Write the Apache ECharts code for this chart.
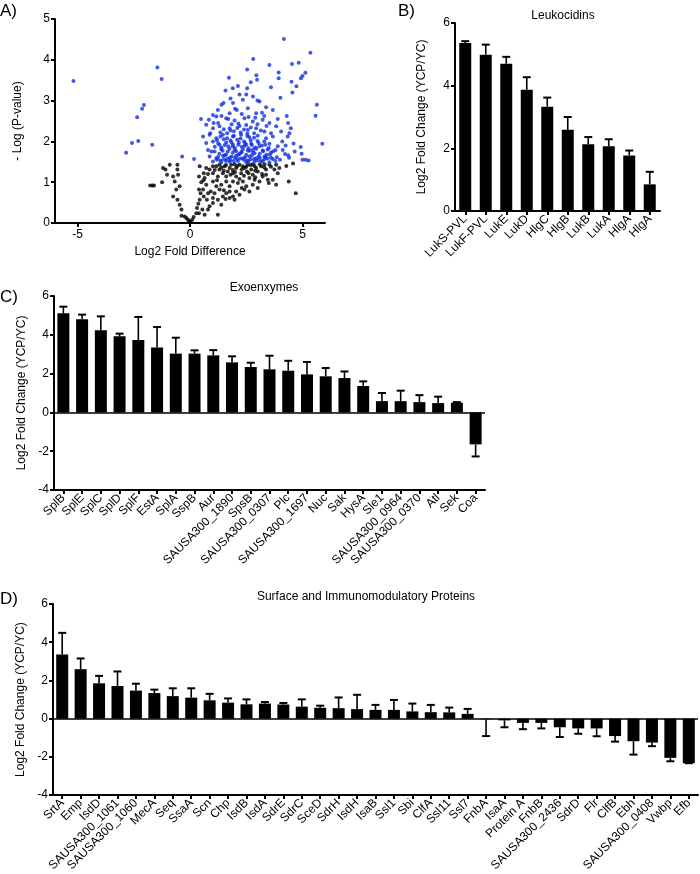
<!DOCTYPE html>
<html><head><meta charset="utf-8">
<script src="https://cdn.jsdelivr.net/npm/echarts@6/dist/echarts.min.js"></script>
<style>html,body{margin:0;padding:0;background:#fff}#c{width:700px;height:874px}</style>
</head><body><div id="c"></div>
<script>
// Panel A: volcano plot points [log2 fold difference, -log p]
const volcanoSig = [
[-5.18,3.48],[-1.45,3.81],[-1.26,3.53],[-2.05,2.89],[-2.13,2.80],[-2.35,2.59],[-2.58,1.96],[-2.30,2.01],[-2.84,1.72],[-1.68,1.92],
[-0.35,1.63],[0.18,1.57],[4.17,4.51],[5.35,4.17],[4.83,3.93],[4.53,3.90],[2.81,4.02],[3.53,3.87],[2.54,3.76],[1.73,3.56],
[3.94,3.69],[3.94,3.55],[5.13,3.68],[5.0,3.60],[4.93,3.55],[4.51,3.46],[4.73,3.35],[4.55,3.20],[3.60,3.33],[2.98,3.51],
[2.95,3.62],[5.64,2.90],[5.58,2.63],[5.88,1.94],[4.02,3.07],[4.30,2.62],[4.36,2.45],[4.48,2.32],[4.42,2.20],[4.34,2.12],
[4.92,1.86],[4.96,1.70],[4.65,1.75],[5.14,1.55],[5.27,1.53],[4.22,1.69],[4.36,1.66],[3.86,1.61],[1.58,3.25],[2.13,3.36],
[2.54,3.30],[2.20,3.15],[2.80,3.10],[1.49,2.94],[1.91,2.94],[2.35,3.02],[3.09,2.98],[3.38,2.84],[1.24,2.77],[1.76,2.69],
[2.08,2.77],[2.57,2.81],[2.94,2.69],[3.68,2.77],[0.49,2.55],[0.84,2.53],[1.02,2.65],[1.17,2.61],[1.61,2.57],[1.98,2.51],
[2.42,2.57],[2.79,2.49],[3.23,2.53],[3.53,2.45],[3.83,2.37],[0.72,2.41],[1.02,2.32],[1.31,2.37],[1.76,2.32],[2.20,2.38],
[2.57,2.28],[2.94,2.32],[3.31,2.24],[4.05,2.24],[0.58,2.12],[0.87,2.16],[1.17,2.08],[1.46,2.16],[1.91,2.12],[2.27,2.16],
[2.64,2.10],[3.01,2.14],[3.38,2.08],[3.68,2.12],[0.72,1.96],[1.02,2.00],[1.31,1.92],[1.61,1.97],[1.91,1.92],[2.17,1.97],
[2.42,1.89],[2.72,1.94],[3.09,1.88],[3.53,1.94],[3.90,1.88],[0.80,1.79],[1.09,1.75],[1.39,1.81],[1.68,1.75],[1.98,1.79],
[2.27,1.73],[2.57,1.78],[2.87,1.71],[3.23,1.78],[3.60,1.73],[4.12,1.79],[0.87,1.63],[1.17,1.59],[1.46,1.65],[1.76,1.60],
[2.05,1.65],[2.35,1.58],[2.64,1.63],[2.94,1.59],[3.31,1.63],[3.68,1.57],[1.02,1.51],[1.39,1.49],[1.76,1.50],[2.13,1.52],
[2.50,1.49],[2.87,1.50],[3.23,1.51],[3.53,1.49],
[1.2,1.55],[1.5,1.56],[1.8,1.54],[2.1,1.57],[2.4,1.55],[2.7,1.56],[3.0,1.54],[3.3,1.56],[3.6,1.60],[3.8,1.52],
[1.3,1.70],[1.6,1.68],[1.9,1.72],[2.2,1.69],[2.5,1.67],[2.8,1.74],[3.1,1.70],[3.4,1.67],[3.7,1.76],
[1.1,1.87],[1.4,1.85],[1.7,1.88],[2.0,1.84],[2.3,1.87],[2.6,1.83],[2.9,1.85],[3.2,1.90],[3.5,1.84],[3.8,1.79],
[1.2,2.03],[1.5,2.05],[1.8,2.02],[2.1,2.04],[2.4,2.00],[2.7,2.03],[3.0,2.01],[3.3,2.00],[4.1,2.00],
[1.35,2.22],[1.65,2.20],[1.95,2.25],[2.25,2.22],[2.55,2.19],[2.85,2.20],[3.15,2.27],[3.6,2.20],
[1.25,2.45],[1.85,2.42],[2.15,2.44],[2.5,2.40],[3.0,2.42],[3.4,2.38],
[1.4,2.90],[2.0,2.80],[2.6,2.60],[3.2,2.70],[0.95,1.75],[0.9,2.20],[1.05,2.45],[4.25,1.90],[4.4,1.60],[4.0,1.55],
[4.6,1.95],[5.0,1.55],[3.9,2.55],[2.7,3.45],[1.9,3.30],
[1.35,1.53],[1.65,1.57],[1.95,1.52],[2.25,1.58],[2.55,1.53],[2.85,1.57],[3.15,1.52],[3.45,1.58],
[1.25,1.62],[1.55,1.66],[1.85,1.63],[2.15,1.67],[2.45,1.62],[2.75,1.66],[3.05,1.63],[3.35,1.61],[3.55,1.68],
[1.45,1.77],[1.75,1.82],[2.05,1.76],[2.35,1.81],[2.65,1.77],[2.95,1.82],[3.25,1.76],[3.45,1.80],
[1.25,1.95],[1.55,1.91],[1.85,1.97],[2.15,1.92],[2.45,1.96],[2.75,1.91],[3.05,1.96],[3.35,1.92],
[1.35,2.12],[1.65,2.08],[1.95,2.14],[2.25,2.07],[2.55,2.13],[2.85,2.09],
[1.5,2.30],[1.8,2.27],[2.1,2.33],[2.4,2.29],[2.7,2.34],
[1.4,2.62],[1.7,2.55],[2.3,2.67],[2.9,2.58],[3.3,2.62],[1.8,3.05],[2.5,3.15],[3.0,3.0],
[1.6,1.52],[2.0,1.60],[2.6,1.51],[3.1,1.60],[2.3,1.74],[2.8,1.80],[1.9,1.88],[2.5,1.92]
];
const volcanoNS = [
[-1.67,0.92],[-1.77,0.92],[-1.60,0.92],[-1.24,1.00],[-1.20,1.35],[-1.09,1.31],[-0.90,1.43],[-1.02,1.18],[-0.75,1.14],[-0.68,1.02],
[-0.56,1.43],[-0.56,1.31],[-0.53,1.18],[-0.46,0.90],[-0.61,0.82],[-0.75,0.65],[-0.56,0.57],[-0.46,0.45],[-0.38,0.33],[-0.38,0.18],
[-0.24,0.16],[-0.16,0.12],[-0.09,0.08],[-0.01,0.04],[0.04,0.02],[-0.04,0.02],[0.10,0.08],[0.16,0.15],[0.28,0.24],[0.31,0.37],
[0.37,0.47],[0.43,0.57],[0.47,0.73],[0.58,0.82],[0.40,0.82],[0.50,1.00],[0.40,1.14],[0.43,1.39],[0.61,1.22],[0.65,1.10],
[0.72,0.94],[0.80,0.73],[0.75,0.57],[0.87,0.41],[1.02,0.49],[1.24,0.20],[0.65,0.20],[0.87,1.31],[1.02,1.22],[1.17,1.39],
[1.24,1.14],[1.31,1.31],[1.46,1.22],[1.54,1.39],[1.68,1.26],[1.83,1.43],[1.91,1.22],[2.05,1.35],[2.20,1.43],[2.27,1.22],
[2.42,1.35],[2.57,1.43],[2.72,1.31],[2.87,1.40],[3.01,1.26],[3.16,1.39],[3.38,1.31],[3.53,1.43],[3.75,1.31],[3.90,1.22],
[4.28,1.40],[4.58,1.46],[4.39,1.02],[4.70,0.73],[3.83,0.94],[3.68,1.06],[3.46,1.06],[3.23,1.14],[3.09,1.02],[2.87,1.06],
[2.64,1.10],[2.50,0.90],[2.35,1.02],[2.13,0.98],[1.91,1.02],[1.76,0.90],[1.61,1.02],[1.39,0.94],[1.17,0.90],[1.02,1.02],
[0.92,0.77],[1.09,0.73],[1.31,0.82],[1.46,0.65],[1.61,0.73],[1.76,0.77],[1.91,0.65],[2.05,0.77],[2.20,0.69],[2.42,0.82],
[2.64,0.77],[2.79,0.94],[3.01,0.86],[1.02,0.61],[1.24,0.57],[1.39,0.45],[1.58,0.59],[1.76,0.61],[1.98,0.57],[0.61,0.65],
[0.80,0.33],[0.40,0.24],[0.55,0.33],[1.31,1.43],[1.76,1.35],[1.98,1.44],[2.35,1.39],[2.53,1.26],[2.79,1.44],[2.94,1.35],
[3.31,1.44],[1.02,1.39],[0.72,1.35],[1.61,1.14],[2.05,1.14],[2.79,1.18],[3.38,1.18],[3.83,1.43],[3.97,1.35],
[1.1,1.30],[1.4,1.36],[1.6,1.42],[1.9,1.30],[2.1,1.40],[2.3,1.32],[2.5,1.38],[2.7,1.42],[2.9,1.28],[3.1,1.44],
[3.3,1.36],[3.6,1.38],[1.5,1.28],[2.0,1.25],[2.6,1.22],[3.2,1.20],[1.8,1.18],[2.4,1.16],[1.2,1.05],[2.2,1.08],
[2.9,1.12],[3.5,0.98],[0.8,1.20],[0.6,1.05],[1.5,0.80],[2.3,0.86]
];
const volcanoTicksX = [-5, 0, 5];

// Panel B
const leukoCats = ['LukS-PVL','LukF-PVL','LukE','LukD','HlgC','HlgB','LukB','LukA','HlgA','HlgA'];
const leukoVals = [5.36,4.99,4.70,3.87,3.33,2.59,2.13,2.07,1.77,0.85];
const leukoErr  = [5.42,5.31,4.92,4.27,3.62,3.00,2.36,2.29,1.93,1.25];

// Panel C
const exoCats = ['SplB','SplE','SplC','SplD','SplF','EstA','SplA','SspB','Aur','SAUSA300_1890','SpsB','SAUSA300_0307','Plc','SAUSA300_1697','Nuc','Sak','HysA','Sle1','SAUSA300_0964','SAUSA300_0370','Atl','Sek','Coa'];
const exoVals = [5.11,4.80,4.23,3.92,3.73,3.35,3.03,3.03,2.94,2.58,2.34,2.22,2.15,1.96,1.86,1.77,1.36,0.58,0.58,0.53,0.48,0.50,-1.65];
const exoErr  = [5.45,5.04,4.95,4.06,4.92,4.40,3.85,3.20,3.21,2.89,2.56,2.92,2.66,2.60,2.29,2.11,1.60,1.00,1.12,0.89,0.81,0.53,-2.27];

// Panel D
const surfCats = ['SrtA','Emp','IsdD','SAUSA300_1061','SAUSA300_1060','MecA','Seq','SsaA','Scn','Chp','IsdB','IsdA','SdrE','SdrC','SceD','SdrH','IsdH','IsaB','Ssl1','Sbi','ClfA','Ssl11','Ssl7','FnbA','IsaA','Protein A','FnbB','SAUSA300_2436','SdrD','Flr','ClfB','Ebh','SAUSA300_0408','Vwbp','Efb'];
const surfVals = [3.36,2.59,1.85,1.71,1.47,1.34,1.18,1.10,0.96,0.84,0.75,0.79,0.74,0.63,0.57,0.55,0.50,0.46,0.46,0.38,0.34,0.33,0.25,-0.03,-0.09,-0.22,-0.22,-0.45,-0.51,-0.51,-0.91,-1.18,-1.25,-2.05,-2.33];
const surfErr  = [4.49,3.15,2.24,2.47,1.83,1.52,1.59,1.59,1.30,1.06,1.01,0.87,0.82,1.01,0.68,1.11,1.25,0.72,0.98,0.79,0.72,0.58,0.51,-0.91,-0.45,-0.55,-0.51,-0.96,-0.79,-0.92,-1.20,-1.88,-1.44,-2.23,-2.33];

const FONT = 'Liberation Sans, Arial, sans-serif';
const axLine = {show:true, onZero:false, lineStyle:{color:'#000', width:2}};
const axTick = {show:true, length:4, lineStyle:{color:'#000', width:2}};
const lbl = {color:'#000', fontFamily:FONT, fontSize:12};

function catX(grid, cats){
  return {type:'category', gridIndex:grid, data:cats, boundaryGap:true,
    axisLine:axLine, axisTick:Object.assign({alignWithLabel:true}, axTick),
    axisLabel:Object.assign({interval:0, rotate:45, margin:6}, lbl), splitLine:{show:false}};
}
function valY(grid, min, max, name, gap){
  return {type:'value', gridIndex:grid, min:min, max:max, interval:2,
    name:name, nameLocation:'middle', nameGap:gap, nameRotate:90,
    nameTextStyle:{color:'#000', fontFamily:FONT, fontSize:12},
    axisLine:axLine, axisTick:axTick, axisLabel:Object.assign({margin:5}, lbl), splitLine:{show:false}};
}
function barS(i, vals, zero){
  const s = {type:'bar', xAxisIndex:i, yAxisIndex:i, data:vals, barWidth:12,
    itemStyle:{color:'#000'}, z:3};
  if (zero) s.markLine = {silent:true, symbol:'none', label:{show:false},
    lineStyle:{color:'#000', width:1.6, type:'solid'}, data:[{yAxis:0}], animation:false};
  return s;
}
function errS(i, vals, errs){
  return {type:'custom', xAxisIndex:i, yAxisIndex:i,
    data: vals.map((v,k)=>[k, v, errs[k]]), encode:{x:0, y:[1,2]}, z:2,
    renderItem:function(params, api){
      const x = api.value(0), v = api.value(1), e = api.value(2);
      const p1 = api.coord([x, v]), p2 = api.coord([x, e]);
      const w = 4;
      return {type:'group', children:[
        {type:'line', shape:{x1:p1[0], y1:p1[1], x2:p2[0], y2:p2[1]}, style:{stroke:'#000', lineWidth:1.6}},
        {type:'line', shape:{x1:p2[0]-w, y1:p2[1], x2:p2[0]+w, y2:p2[1]}, style:{stroke:'#000', lineWidth:2}}
      ]};
    }};
}
function txt(t, x, y, size, align){
  return {type:'text', x:x, y:y, style:{text:t, fill:'#000', font: size + 'px ' + FONT, textAlign:align||'left', textVerticalAlign:'top'}};
}

const chart = echarts.init(document.getElementById('c'), null, {renderer:'canvas'});
chart.setOption({
  animation:false,
  backgroundColor:'#fff',
  grid:[
    {left:55, top:19, width:270, height:204},
    {left:455, top:23, width:205, height:188},
    {left:54, top:296, width:431, height:194},
    {left:53, top:604, width:645, height:195}
  ],
  xAxis:[
    {type:'value', gridIndex:0, min:-6, max:6, interval:1,
      name:'Log2 Fold Difference', nameLocation:'middle', nameGap:23,
      nameTextStyle:{color:'#000', fontFamily:FONT, fontSize:12},
      axisLine:axLine, axisTick:Object.assign({customValues:volcanoTicksX}, axTick),
      axisLabel:Object.assign({customValues:volcanoTicksX, margin:6}, lbl), splitLine:{show:false}},
    catX(1, leukoCats), catX(2, exoCats), catX(3, surfCats)
  ],
  yAxis:[
    {type:'value', gridIndex:0, min:0, max:5, interval:1,
      name:'- Log (P-value)', nameLocation:'middle', nameGap:31, nameRotate:90,
      nameTextStyle:{color:'#000', fontFamily:FONT, fontSize:12},
      axisLine:axLine, axisTick:axTick, axisLabel:Object.assign({margin:5}, lbl), splitLine:{show:false}},
    valY(1, 0, 6, 'Log2 Fold Change (YCP/YC)', 27),
    valY(2, -4, 6, 'Log2 Fold Change (YCP/YC)', 26),
    valY(3, -4, 6, 'Log2 Fold Change (YCP/YC)', 26)
  ],
  series:[
    {type:'scatter', xAxisIndex:0, yAxisIndex:0, data:volcanoNS, symbolSize:4, itemStyle:{color:'#000'}},
    {type:'scatter', xAxisIndex:0, yAxisIndex:0, data:volcanoSig, symbolSize:4, itemStyle:{color:'#1030e0'}},
    barS(1, leukoVals, false), errS(1, leukoVals, leukoErr),
    barS(2, exoVals, true), errS(2, exoVals, exoErr),
    barS(3, surfVals, true), errS(3, surfVals, surfErr)
  ],
  graphic:[
    txt('A)', 0, 3, 17), txt('B)', 398, 3, 17), txt('C)', 0, 289, 17), txt('D)', 0, 591, 17),
    txt('Leukocidins', 563, 10, 12, 'center'),
    txt('Exoenxymes', 264, 282, 12, 'center'),
    txt('Surface and Immunomodulatory Proteins', 366, 591, 12, 'center')
  ]
});
</script>
</body></html>
